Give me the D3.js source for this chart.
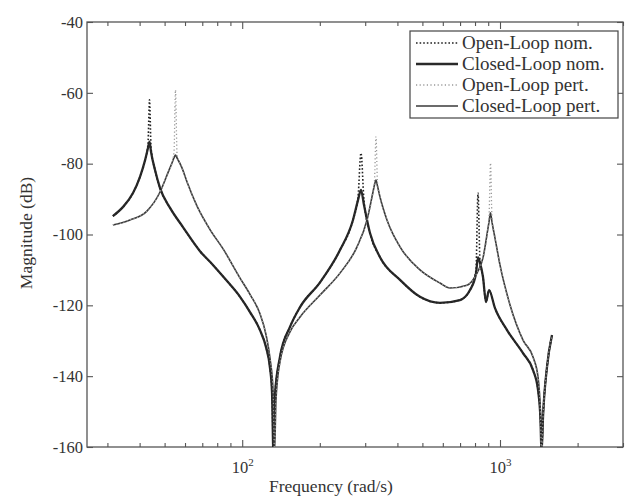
<!DOCTYPE html>
<html>
<head>
<meta charset="utf-8">
<script src="https://cdn.jsdelivr.net/npm/d3@7"></script>
<style>
  body { margin: 0; background: #ffffff; }
  svg text { font-family: "Liberation Serif", "Times New Roman", serif; fill: #333; }
</style>
</head>
<body>
<svg id="chart" width="631" height="496"></svg>
<script>
// Nominal plant: frequency grid (rad/s) and magnitude (dB)
const freqNom = [31.5, 34.5, 37.7, 40.1, 42.0, 43.1, 43.7, 44.3, 45.9, 48.0, 52.5, 58.9, 68.6, 77.0, 86.5,
  98.1, 107.2, 117.2, 123.7, 128.2, 130.5, 132.2, 134.0, 140.1, 153.2, 167.6, 200.4, 239.5, 269.0, 281.3,
  288.9, 296.8, 313.1, 342.4, 409.4, 489.3, 585.0, 699.5, 764.9, 807.0, 821.6, 836.4, 859.1, 882.4, 906.4,
  956.3, 1064.7, 1228.1, 1342.9, 1404.3, 1436.0, 1448.9, 1468.4, 1521.7, 1591.2];
const magClosedNom = [-94.8, -92.2, -88.3, -83.8, -79.0, -75.6, -73.8, -76.7, -81.8, -86.9, -92.5, -97.9, -104.7, -108.6, -112.8,
  -117.6, -121.9, -127.0, -131.8, -137.7, -144.5, -162, -145.3, -134.6, -126.1, -120.5, -113.5, -104.4, -95.9, -90.3,
  -87.4, -91.7, -99.6, -106.4, -112.8, -117.6, -119.3, -118.5, -115.7, -111.0, -106.5, -108.0, -112.0, -119.1, -115.7,
  -120.8, -127.0, -133.5, -138.3, -143.9, -152.4, -162, -151.5, -137.4, -128.4];
const magOpenNom = [-94.8, -92.2, -88.3, -83.8, -79.0, -74.5, -62.0, -75.5, -81.8, -86.9, -92.5, -97.9, -104.7, -108.6, -112.8,
  -117.6, -121.9, -127.0, -131.8, -137.7, -144.5, -162, -145.3, -134.6, -126.1, -120.5, -113.5, -104.4, -95.9, -89.5,
  -77.0, -90.5, -99.6, -106.4, -112.8, -117.6, -119.3, -118.5, -115.7, -110.0, -88.3, -107.5, -112.0, -119.1, -115.7,
  -120.8, -127.0, -133.5, -138.3, -143.9, -152.4, -162, -151.5, -137.4, -128.4];

// Perturbed plant: frequency grid (rad/s) and magnitude (dB)
const freqPert = [31.5, 36.7, 42.7, 48.0, 51.5, 53.4, 54.4, 55.1, 55.9, 58.4, 61.1, 66.8, 75.0, 84.2, 98.1,
  107.2, 117.2, 123.7, 128.2, 131.7, 133.4, 135.2, 140.1, 153.2, 167.6, 200.4, 239.5, 278.8, 304.9, 321.6,
  325.9, 330.3, 334.8, 342.4, 364.4, 409.4, 489.3, 585.0, 639.7, 744.7, 814.3, 859.1, 898.4, 906.4, 918.6,
  931.0, 956.3, 999.8, 1093.6, 1228.1, 1342.9, 1404.3, 1436.0, 1448.9, 1468.4, 1521.7, 1591.2];
const magClosedPert = [-97.3, -95.9, -93.4, -88.0, -82.6, -79.8, -78.3, -77.6, -78.4, -81.2, -85.2, -92.0, -98.6, -104.0, -112.3,
  -116.9, -122.4, -128.3, -135.0, -143.9, -162, -146.7, -136.0, -127.5, -123.3, -117.1, -110.9, -103.5, -95.9, -88.0,
  -86.0, -84.6, -86.3, -89.4, -95.9, -103.5, -110.0, -113.7, -115.1, -114.3, -110.9, -106.6, -98.2, -96.5, -93.9,
  -96.5, -101.0, -108.6, -119.9, -129.8, -134.6, -140.2, -151.0, -162, -151.5, -137.4, -128.4];
const magOpenPert = [-97.3, -95.9, -93.4, -88.0, -82.6, -79.8, -76.5, -59.2, -77.5, -81.2, -85.2, -92.0, -98.6, -104.0, -112.3,
  -116.9, -122.4, -128.3, -135.0, -143.9, -162, -146.7, -136.0, -127.5, -123.3, -117.1, -110.9, -103.5, -95.9, -88.0,
  -85.0, -72.4, -85.5, -89.4, -95.9, -103.5, -110.0, -113.7, -115.1, -114.3, -110.9, -106.6, -98.2, -95.5, -79.8,
  -95.5, -101.0, -108.6, -119.9, -129.8, -134.6, -140.2, -151.0, -162, -151.5, -137.4, -128.4];

// Axis ticks and labels
const yTicks = [-160, -140, -120, -100, -80, -60, -40];
const xMajorTicks = [100, 1000];
const xMajorExponents = ["2", "3"];
const xMinorTicks = [30, 40, 50, 60, 70, 80, 90, 200, 300, 400, 500, 600, 700, 800, 900, 2000, 3000];
const legendLabels = ["Open-Loop nom.", "Closed-Loop nom.", "Open-Loop pert.", "Closed-Loop pert."];

const svg = d3.select("#chart");
const plotLeft = 87, plotRight = 623, plotTop = 22, plotBottom = 447;

const x = d3.scaleLog().domain([25, 3000]).range([plotLeft, plotRight]);
const y = d3.scaleLinear().domain([-160, -40]).range([plotBottom, plotTop]);

svg.append("rect").attr("width", 631).attr("height", 496).attr("fill", "#fff");

svg.append("defs").append("clipPath").attr("id", "plotClip")
  .append("rect").attr("x", plotLeft).attr("y", plotTop)
  .attr("width", plotRight - plotLeft).attr("height", plotBottom - plotTop);

const axisColor = "#555";

// Ticks (pointing inward) on all four sides
function styleAxis(g) {
  g.select(".domain").remove();
  g.selectAll(".tick line").attr("stroke", axisColor).attr("stroke-width", 1.1);
  g.selectAll(".tick text").attr("fill", "#333").style("font-size", "16.5px")
    .style("font-family", "'Liberation Serif', serif");
}

svg.append("g").attr("transform", `translate(0,${plotBottom})`)
  .call(d3.axisBottom(x).tickValues(xMinorTicks).tickSizeInner(-4).tickSizeOuter(0).tickFormat(""))
  .call(styleAxis);
svg.append("g").attr("transform", `translate(0,${plotTop})`)
  .call(d3.axisTop(x).tickValues(xMinorTicks).tickSizeInner(-4).tickSizeOuter(0).tickFormat(""))
  .call(styleAxis);
svg.append("g").attr("transform", `translate(0,${plotTop})`)
  .call(d3.axisTop(x).tickValues(xMajorTicks).tickSizeInner(-7).tickSizeOuter(0).tickFormat(""))
  .call(styleAxis);

const xMajor = svg.append("g").attr("transform", `translate(0,${plotBottom})`)
  .call(d3.axisBottom(x).tickValues(xMajorTicks).tickSizeInner(-7).tickSizeOuter(0).tickFormat(""))
  .call(styleAxis);
xMajor.selectAll(".tick").each(function (d, i) {
  const t = d3.select(this).append("text")
    .attr("y", 26).attr("text-anchor", "middle").attr("fill", "#333")
    .style("font-size", "16.5px");
  t.append("tspan").text("10");
  t.append("tspan").attr("dy", -7).style("font-size", "11px").text(xMajorExponents[i]);
});

svg.append("g").attr("transform", `translate(${plotLeft},0)`)
  .call(d3.axisLeft(y).tickValues(yTicks).tickSizeInner(-6).tickSizeOuter(0).tickPadding(4)
    .tickFormat(d => String(d)))
  .call(styleAxis);
svg.append("g").attr("transform", `translate(${plotRight},0)`)
  .call(d3.axisRight(y).tickValues(yTicks).tickSizeInner(-6).tickSizeOuter(0).tickFormat(""))
  .call(styleAxis);

// Frame
svg.append("rect").attr("x", plotLeft).attr("y", plotTop)
  .attr("width", plotRight - plotLeft).attr("height", plotBottom - plotTop)
  .attr("fill", "none").attr("stroke", axisColor).attr("stroke-width", 1.3);

// Axis titles
svg.append("text").attr("x", 331).attr("y", 492).attr("text-anchor", "middle")
  .style("font-size", "17.5px").text("Frequency (rad/s)");
svg.append("text").attr("transform", "translate(32,233) rotate(-90)").attr("text-anchor", "middle")
  .style("font-size", "17.5px").text("Magnitude (dB)");

// Response curves
const line = d3.line().curve(d3.curveMonotoneX).x(d => x(d[0])).y(d => y(d[1]));
const zip = (f, m) => f.map((v, i) => [v, m[i]]);

const series = [
  { name: legendLabels[0], data: zip(freqNom, magOpenNom), stroke: "#222", width: 1.6, dash: "1.6,2" },
  { name: legendLabels[1], data: zip(freqNom, magClosedNom), stroke: "#2a2a2a", width: 2.3, dash: null },
  { name: legendLabels[2], data: zip(freqPert, magOpenPert), stroke: "#999", width: 1.3, dash: "1.2,2.4" },
  { name: legendLabels[3], data: zip(freqPert, magClosedPert), stroke: "#3a3a3a", width: 1.6, dash: null }
];

const plot = svg.append("g").attr("clip-path", "url(#plotClip)");
[1, 3, 0, 2].forEach(i => {
  const s = series[i];
  plot.append("path").datum(s.data)
    .attr("d", line)
    .attr("fill", "none")
    .attr("stroke", s.stroke)
    .attr("stroke-width", s.width)
    .attr("stroke-linejoin", "round")
    .attr("stroke-dasharray", s.dash);
});

// Legend
const lg = svg.append("g");
lg.append("rect").attr("x", 410).attr("y", 31).attr("width", 208).attr("height", 87)
  .attr("fill", "#fff").attr("stroke", "#444").attr("stroke-width", 1.2);
series.forEach((s, i) => {
  const yy = 43 + i * 21;
  lg.append("line").attr("x1", 416).attr("x2", 458).attr("y1", yy).attr("y2", yy)
    .attr("stroke", s.stroke).attr("stroke-width", s.width).attr("stroke-dasharray", s.dash);
  lg.append("text").attr("x", 462).attr("y", yy + 6).style("font-size", "19px").text(s.name);
});
</script>
</body>
</html>
